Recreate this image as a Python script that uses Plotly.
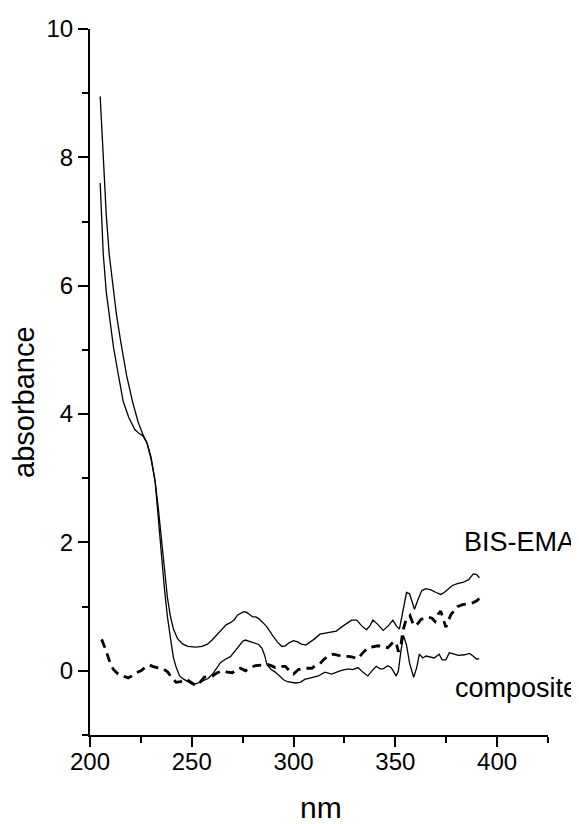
import plotly.graph_objects as go

# ---- data (wavelength nm, absorbance) ----
bis_ema = [(205, 8.95), (206.8, 7.8), (208, 7.1), (209.4, 6.5), (211, 6.05), (213, 5.55),
           (215, 5.15), (218, 4.6), (221, 4.18), (223.6, 3.88), (226, 3.68), (228, 3.55),
           (230, 3.3), (232, 2.95), (233.5, 2.55), (235, 2.1), (236.5, 1.6), (238, 1.15),
           (239.5, 0.85), (241, 0.65), (243, 0.5), (245.5, 0.42), (248, 0.38), (252, 0.37),
           (255, 0.38), (257.7, 0.415), (260, 0.48), (262, 0.55), (264.5, 0.63), (267, 0.72),
           (269, 0.75), (271, 0.8), (272.5, 0.87), (274, 0.9), (275.6, 0.92), (277, 0.91),
           (278.5, 0.87), (280, 0.84), (281.5, 0.84), (283, 0.81), (285, 0.75), (287, 0.68),
           (289.5, 0.56), (292, 0.45), (294.3, 0.38), (296, 0.39), (298, 0.44), (300, 0.47),
           (302, 0.45), (303.5, 0.42), (306, 0.4), (308, 0.44), (310, 0.49), (313, 0.57),
           (317, 0.59), (321, 0.62), (324.4, 0.7), (326.5, 0.75), (328.5, 0.79), (331, 0.79),
           (333.5, 0.7), (335.8, 0.64), (337.5, 0.7), (339, 0.79), (341.5, 0.72), (344, 0.63),
           (346.5, 0.7), (348.8, 0.79), (350.5, 0.7), (352, 0.65), (353.5, 0.9), (355.5, 1.22),
           (357, 1.2), (359.4, 0.96), (361, 1.1), (363, 1.25), (365, 1.28), (367.5, 1.26),
           (370, 1.22), (372.3, 1.19), (374, 1.22), (376, 1.28), (378, 1.33), (380.5, 1.36),
           (383.5, 1.38), (386, 1.42), (388.3, 1.51), (390, 1.5), (391.3, 1.45)]

composite = [(205, 7.6), (206.5, 6.5), (208, 5.9), (210, 5.4), (211.5, 5.05), (214, 4.6),
             (216.3, 4.2), (219, 3.95), (222, 3.76), (224, 3.7), (226, 3.66), (228, 3.55),
             (230, 3.33), (232, 2.95), (233.5, 2.45), (235, 1.85), (236.5, 1.3), (238, 0.85),
             (239.8, 0.45), (241, 0.2), (242.3, 0.06), (244, -0.08), (246, -0.13), (248, -0.17),
             (250.4, -0.21), (253, -0.19), (255.3, -0.16), (258, -0.12), (260.2, -0.05),
             (262, 0.04), (264.2, 0.13), (266.5, 0.18), (269, 0.22), (271, 0.3), (273.2, 0.39),
             (275, 0.46), (276.4, 0.48), (278, 0.46), (279.7, 0.44), (282.9, 0.41), (284.5, 0.35),
             (285.8, 0.24), (287, 0.09), (289, 0.02), (291, -0.02), (293, -0.08), (295.1, -0.14),
             (297, -0.17), (299.2, -0.18), (301, -0.19), (303.3, -0.18), (305.7, -0.13),
             (307, -0.12), (309, -0.1), (312.2, -0.08), (315.4, -0.02), (318.7, -0.05),
             (322.8, 0.0), (326.8, 0.03), (329, 0.02), (331.7, 0.05), (334, -0.02), (336.5, -0.08),
             (338.5, 0.0), (340.6, 0.07), (342.5, 0.03), (344, 0.03), (346.3, 0.08), (348, 0.05),
             (350.4, -0.08), (351.5, 0.0), (352.7, 0.3), (354, 0.55), (355.5, 0.4), (357, 0.12),
             (359, -0.1), (360.5, 0.05), (361.8, 0.26), (363.5, 0.2), (365.1, 0.23), (367, 0.21),
             (369.1, 0.2), (371.5, 0.26), (373, 0.17), (374.8, 0.17), (376.5, 0.28), (378.9, 0.26),
             (381, 0.24), (384, 0.25), (386.5, 0.27), (388.6, 0.22), (390, 0.18), (391.2, 0.19)]

difference = [(205.7, 0.49), (207.5, 0.35), (209.8, 0.13), (211.5, 0.02), (213.8, -0.05),
              (216, -0.08), (218.7, -0.11), (220.5, -0.08), (222.8, -0.03), (225, 0.0),
              (227, 0.05), (229.3, 0.09), (231.5, 0.06), (234.1, 0.04), (236, 0.03),
              (238.2, -0.02), (240, -0.1), (242.3, -0.18), (244.5, -0.17), (247.2, -0.13),
              (249.5, -0.18), (252, -0.23), (254, -0.18), (256.1, -0.1), (258, -0.09),
              (260.2, -0.08), (262.5, -0.03), (265, 0.0), (267.5, -0.02), (270, -0.03),
              (272, 0.02), (274, 0.04), (276.4, 0.0), (278.5, 0.05), (281.3, 0.08), (284, 0.09),
              (287, 0.1), (289, 0.08), (291, 0.05), (293.5, 0.07), (295.9, 0.07), (298, 0.0),
              (300, -0.05), (302.4, 0.02), (305, 0.04), (309, 0.04), (310.6, 0.08), (313, 0.11),
              (314.6, 0.17), (317, 0.23), (319.5, 0.26), (322, 0.24), (325.2, 0.23), (328, 0.22),
              (331.7, 0.19), (334, 0.28), (336.6, 0.36), (339, 0.37), (341.5, 0.39), (343.5, 0.38),
              (346.3, 0.36), (348.8, 0.44), (350.3, 0.45), (351.5, 0.3), (352.5, 0.35),
              (353.7, 0.62), (355.3, 0.8), (357.2, 0.86), (358.8, 0.72), (360.2, 0.7),
              (362.6, 0.8), (365.9, 0.84), (368, 0.82), (369.5, 0.77), (371, 0.88), (372.3, 0.93),
              (374.8, 0.68), (377.2, 0.87), (380.5, 1.0), (383, 1.03), (385.4, 1.05), (388, 1.06),
              (390, 1.09), (391.3, 1.13)]

x_range = [200, 425]
y_range = [-1, 10]
x_title = "nm"
y_title = "absorbance"
label_upper = "BIS-EMA"
label_lower = "composite"

FONT = "Liberation Sans, Arial, Helvetica, sans-serif"

fig = go.Figure()
for series, dash, width in [(bis_ema, "solid", 1.3), (composite, "solid", 1.3),
                            (difference, "9px,6px", 2.8)]:
    fig.add_trace(go.Scatter(
        x=[p[0] for p in series], y=[p[1] for p in series],
        mode="lines", line=dict(color="black", width=width, dash=dash),
        showlegend=False, hoverinfo="skip"))

axis_common = dict(showline=True, linewidth=2, linecolor="black", showgrid=False,
                   zeroline=False, ticks="outside", ticklen=10, tickwidth=2,
                   tickcolor="black", tickfont=dict(family=FONT, size=24, color="black"))

fig.update_xaxes(range=x_range, tickmode="linear", tick0=200, dtick=50,
                 ticklabelstandoff=-6,
                 minor=dict(ticks="outside", ticklen=6, tickwidth=2, tickcolor="black",
                            tick0=200, dtick=25, showgrid=False),
                 **axis_common)
fig.update_yaxes(range=y_range, tickmode="linear", tick0=0, dtick=2,
                 minor=dict(ticks="outside", ticklen=6, tickwidth=2, tickcolor="black",
                            tick0=0, dtick=1, showgrid=False),
                 **axis_common)

# page body has an 8px margin; the figure is sized so it ends at the window edge
OFF = 8
W, H = 579 - OFF, 824 - OFF
L, T = 90 - OFF, 29 - OFF
R = W - (548 - OFF)
B = H - (735 - OFF)
pw, ph = W - L - R, H - T - B


def px(xw):
    return (xw - OFF - L) / pw


def py(yw):
    return (H - B - (yw - OFF)) / ph


annotations = [
    dict(text=x_title, x=px(321), y=py(807), size=30, angle=0),
    dict(text=y_title, x=px(24), y=py(402), size=29, angle=-90),
    dict(text=label_upper, x=px(519), y=py(542), size=27, angle=0),
    dict(text=label_lower, x=px(516), y=py(688), size=27, angle=0),
]
for a in annotations:
    fig.add_annotation(text=a["text"], x=a["x"], y=a["y"], xref="paper", yref="paper",
                       xanchor="center", yanchor="middle", showarrow=False,
                       textangle=a["angle"],
                       font=dict(family=FONT, size=a["size"], color="black"))

fig.update_layout(width=W, height=H, margin=dict(l=L, r=R, t=T, b=B, autoexpand=False),
                  plot_bgcolor="white", paper_bgcolor="white",
                  font=dict(family=FONT, color="black"))

fig.write_html("out.html")
